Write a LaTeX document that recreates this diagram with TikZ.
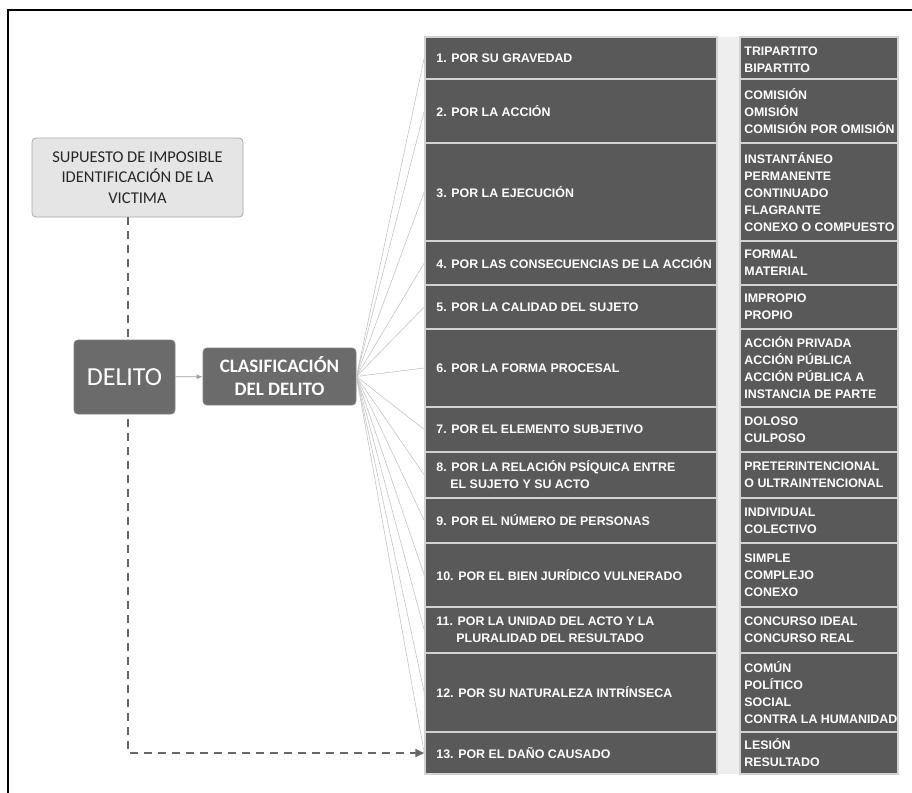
\documentclass[tikz,border=0pt]{standalone}
\usepackage{fontspec}
\setmainfont{Liberation Sans}
\newfontfamily\carl{Carlito}
\usetikzlibrary{arrows.meta}

\definecolor{cell}{HTML}{595959}
\definecolor{rulegray}{HTML}{D2D2D2}
\definecolor{gapgray}{HTML}{EEEEEE}
\definecolor{boxdark}{HTML}{6B6B6B}
\definecolor{boxlight}{HTML}{E5E5E5}
\definecolor{boxedge}{HTML}{A6A6A6}
\definecolor{fanline}{HTML}{C4C4C4}
\definecolor{dashgray}{HTML}{676767}
\definecolor{supink}{HTML}{262626}

\begin{document}
\begin{tikzpicture}[x=1pt,y=-1pt,
  leftcell/.style={fill=cell, draw=rulegray, line width=1.5pt, inner sep=0pt, minimum width=292pt},
  rightcell/.style={fill=cell, draw=rulegray, line width=1.5pt, inner sep=0pt, minimum width=158pt},
  lbl/.style={anchor=west, inner sep=0pt, text=white, align=left,
    font=\fontsize{12.4}{17}\selectfont\bfseries},
  fan/.style={draw=fanline, line width=0.6pt},
  dashlink/.style={draw=dashgray, line width=2pt, dash pattern=on 8pt off 6pt},
  darkbox/.style={fill=boxdark, draw=boxdark!85!white, line width=0.8pt, rounded corners=4pt, text=white, align=center, inner sep=0pt},
]
\useasboundingbox (0,0) rectangle (912,792);

% outer frame (open at right and bottom)
\draw[line width=2pt] (8,800) -- (8,10) -- (920,10);

% light strip between the two columns
\fill[gapgray] (717,37) rectangle (740,774);

% left column: criteria
\node[leftcell, minimum height=42pt] (a1)  at (571,58)    {};
\node[leftcell, minimum height=64pt] (a2)  at (571,111)   {};
\node[leftcell, minimum height=98pt] (a3)  at (571,192)   {};
\node[leftcell, minimum height=44pt] (a4)  at (571,263)   {};
\node[leftcell, minimum height=44pt] (a5)  at (571,307)   {};
\node[leftcell, minimum height=78pt] (a6)  at (571,368)   {};
\node[leftcell, minimum height=45pt] (a7)  at (571,429.5) {};
\node[leftcell, minimum height=46pt] (a8)  at (571,475)   {};
\node[leftcell, minimum height=45pt] (a9)  at (571,520.5) {};
\node[leftcell, minimum height=64pt] (a10) at (571,575)   {};
\node[leftcell, minimum height=46pt] (a11) at (571,630)   {};
\node[leftcell, minimum height=79pt] (a12) at (571,692.5) {};
\node[leftcell, minimum height=42pt] (a13) at (571,753)   {};

% right column: types
\node[rightcell, minimum height=42pt] (b1)  at (819,58)    {};
\node[rightcell, minimum height=64pt] (b2)  at (819,111)   {};
\node[rightcell, minimum height=98pt] (b3)  at (819,192)   {};
\node[rightcell, minimum height=44pt] (b4)  at (819,263)   {};
\node[rightcell, minimum height=44pt] (b5)  at (819,307)   {};
\node[rightcell, minimum height=78pt] (b6)  at (819,368)   {};
\node[rightcell, minimum height=45pt] (b7)  at (819,429.5) {};
\node[rightcell, minimum height=46pt] (b8)  at (819,475)   {};
\node[rightcell, minimum height=45pt] (b9)  at (819,520.5) {};
\node[rightcell, minimum height=64pt] (b10) at (819,575)   {};
\node[rightcell, minimum height=46pt] (b11) at (819,630)   {};
\node[rightcell, minimum height=79pt] (b12) at (819,692.5) {};
\node[rightcell, minimum height=42pt] (b13) at (819,753)   {};

% criteria labels
\node[lbl] (ta1)  at ([xshift=12pt]a1.west)  {1. POR SU GRAVEDAD};
\node[lbl] (ta2)  at ([xshift=12pt]a2.west)  {2. POR LA ACCIÓN};
\node[lbl] (ta3)  at ([xshift=12pt]a3.west)  {3. POR LA EJECUCIÓN};
\node[lbl] (ta4)  at ([xshift=12pt]a4.west)  {4. POR LAS CONSECUENCIAS DE LA ACCIÓN};
\node[lbl] (ta5)  at ([xshift=12pt]a5.west)  {5. POR LA CALIDAD DEL SUJETO};
\node[lbl] (ta6)  at ([xshift=12pt]a6.west)  {6. POR LA FORMA PROCESAL};
\node[lbl] (ta7)  at ([xshift=12pt]a7.west)  {7. POR EL ELEMENTO SUBJETIVO};
\node[lbl] (ta8)  at ([xshift=12pt]a8.west)  {8. POR LA RELACIÓN PSÍQUICA ENTRE\\\hspace*{14pt}EL SUJETO Y SU ACTO};
\node[lbl] (ta9)  at ([xshift=12pt]a9.west)  {9. POR EL NÚMERO DE PERSONAS};
\node[lbl] (ta10) at ([xshift=12pt]a10.west) {10. POR EL BIEN JURÍDICO VULNERADO};
\node[lbl] (ta11) at ([xshift=12pt]a11.west) {11. POR LA UNIDAD DEL ACTO Y LA\\\hspace*{20pt}PLURALIDAD DEL RESULTADO};
\node[lbl] (ta12) at ([xshift=12pt]a12.west) {12. POR SU NATURALEZA INTRÍNSECA};
\node[lbl] (ta13) at ([xshift=12pt]a13.west) {13. POR EL DAÑO CAUSADO};

% type labels
\node[lbl] (tb1)  at ([xshift=5pt,yshift=-2pt]b1.west)  {TRIPARTITO\\BIPARTITO};
\node[lbl] (tb2)  at ([xshift=5pt]b2.west)  {COMISIÓN\\OMISIÓN\\COMISIÓN POR OMISIÓN};
\node[lbl] (tb3)  at ([xshift=5pt]b3.west)  {INSTANTÁNEO\\PERMANENTE\\CONTINUADO\\FLAGRANTE\\CONEXO O COMPUESTO};
\node[lbl] (tb4)  at ([xshift=5pt]b4.west)  {FORMAL\\MATERIAL};
\node[lbl] (tb5)  at ([xshift=5pt]b5.west)  {IMPROPIO\\PROPIO};
\node[lbl] (tb6)  at ([xshift=5pt]b6.west)  {ACCIÓN PRIVADA\\ACCIÓN PÚBLICA\\ACCIÓN PÚBLICA A\\INSTANCIA DE PARTE};
\node[lbl] (tb7)  at ([xshift=5pt]b7.west)  {DOLOSO\\CULPOSO};
\node[lbl] (tb8)  at ([xshift=5pt]b8.west)  {PRETERINTENCIONAL\\O ULTRAINTENCIONAL};
\node[lbl] (tb9)  at ([xshift=5pt]b9.west)  {INDIVIDUAL\\COLECTIVO};
\node[lbl] (tb10) at ([xshift=5pt]b10.west) {SIMPLE\\COMPLEJO\\CONEXO};
\node[lbl] (tb11) at ([xshift=5pt]b11.west) {CONCURSO IDEAL\\CONCURSO REAL};
\node[lbl] (tb12) at ([xshift=5pt]b12.west) {COMÚN\\POLÍTICO\\SOCIAL\\CONTRA LA HUMANIDAD};
\node[lbl] (tb13) at ([xshift=5pt]b13.west) {LESIÓN\\RESULTADO};

% left-hand boxes
\node[fill=boxlight, draw=boxedge, line width=0.8pt, rounded corners=4pt,
      minimum width=211pt, minimum height=79pt, inner sep=0pt, align=center,
      text=supink, font=\carl\fontsize{16.5}{20.5}\selectfont]
  (sup) at (137.5,177.5) {SUPUESTO DE IMPOSIBLE\\IDENTIFICACIÓN DE LA\\VICTIMA};

\coordinate (vx) at (128,0);
\draw[dashlink] (sup.south -| vx) -- (128,345);
\draw[dashlink, -{Triangle[length=9pt,width=8pt]}] (128,405) |- (a13.west);

\node[darkbox, minimum width=101pt, minimum height=74pt,
      font=\carl\fontsize{26}{30}\selectfont] (del) at (124.5,377) {DELITO};

\node[darkbox, minimum width=153pt, minimum height=57pt,
      font=\carl\bfseries\fontsize{19}{23}\selectfont] (clas) at (279.5,376.5) {CLASIFICACIÓN\\DEL DELITO};

\draw[draw=gray!75, line width=0.8pt, -{Latex[length=6pt,width=5pt]}] (del) -- (clas);

% fan of connectors to every criterion
\foreach \i in {1,...,13} {
  \draw[fan] (clas.east) -- (a\i.west);
}
\end{tikzpicture}
\end{document}
